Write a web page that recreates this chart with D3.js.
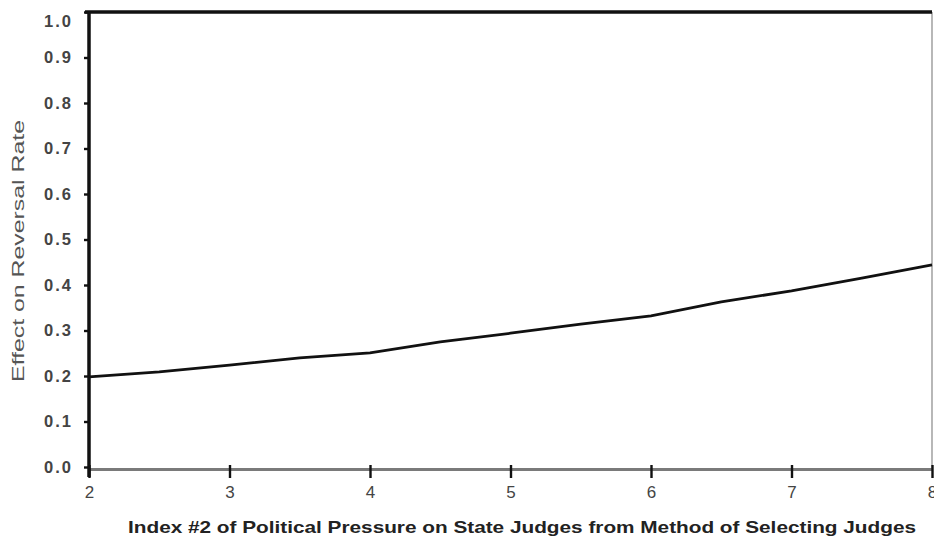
<!DOCTYPE html>
<html>
<head>
<meta charset="utf-8">
<script src="https://cdn.jsdelivr.net/npm/d3@7"></script>
<style>
  html, body { margin: 0; padding: 0; background: #fff; }
  svg { display: block; }
</style>
</head>
<body>
<svg id="chart" width="934" height="537"></svg>
<script>
// Index of political pressure (x) and estimated effect on reversal rate (y)
const indexValues = [2, 2.5, 3, 3.5, 4, 4.5, 5, 5.5, 6, 6.5, 7, 7.5, 8];
const effectValues = [0.198, 0.209, 0.224, 0.240, 0.251, 0.275, 0.294, 0.314, 0.332, 0.363, 0.387, 0.415, 0.444];
const xTickValues = [2, 3, 4, 5, 6, 7, 8];
const yTickValues = [0, 0.1, 0.2, 0.3, 0.4, 0.5, 0.6, 0.7, 0.8, 0.9, 1.0];
const xTitle = "Index #2 of Political Pressure on State Judges from Method of Selecting Judges";
const yTitle = "Effect on Reversal Rate";

const svg = d3.select("#chart");
const plotLeft = 89, plotRight = 932, plotTop = 12, plotBottom = 467;

const x = d3.scaleLinear().domain([2, 8]).range([plotLeft, plotRight]);
const y = d3.scaleLinear().domain([0, 1]).range([plotBottom, plotTop]);

// frame: thin right edge, heavy top edge
svg.append("line")
  .attr("x1", plotRight).attr("x2", plotRight).attr("y1", plotTop).attr("y2", plotBottom + 2)
  .attr("stroke", "#888").attr("stroke-width", 1.2);
svg.append("line")
  .attr("x1", plotLeft - 4).attr("x2", plotRight).attr("y1", plotTop).attr("y2", plotTop)
  .attr("stroke", "#111").attr("stroke-width", 3.5);

// x axis (grey baseline, dark ticks through it)
const xAxis = svg.append("g").attr("transform", `translate(0,${plotBottom + 2})`)
  .call(d3.axisBottom(x).tickValues(xTickValues).tickFormat(d3.format("d"))
    .tickSize(0).tickPadding(17));
xAxis.select(".domain").attr("stroke", "#7a7a7a").attr("stroke-width", 3);
xAxis.selectAll(".tick").append("line")
  .attr("y1", -4).attr("y2", 9).attr("stroke", "#111").attr("stroke-width", 2.4);
xAxis.selectAll(".tick text")
  .attr("font-family", "Liberation Sans, Arial, sans-serif")
  .attr("font-size", 17).attr("fill", "#444");

// y axis
const yAxis = svg.append("g").attr("transform", `translate(${plotLeft},0)`)
  .call(d3.axisLeft(y).tickValues(yTickValues).tickFormat(d3.format(".1f"))
    .tickSize(5).tickPadding(11));
yAxis.select(".domain").attr("stroke", "#111").attr("stroke-width", 3.5)
  .attr("d", `M0,${plotTop}V${plotBottom + 10}`);
yAxis.selectAll(".tick line").attr("stroke", "#111").attr("stroke-width", 2.4);
yAxis.selectAll(".tick text")
  .attr("font-family", "Liberation Sans, Arial, sans-serif")
  .attr("font-size", 16.5).attr("font-weight", "bold")
  .attr("letter-spacing", "2px").attr("fill", "#444")
  .attr("dy", d => d === 1 ? "0.9em" : "0.32em");

// effect curve
const line = d3.line().x((d, i) => x(indexValues[i])).y(d => y(d));
svg.append("path")
  .datum(effectValues)
  .attr("d", line)
  .attr("fill", "none")
  .attr("stroke", "#111")
  .attr("stroke-width", 2.8);

// axis titles
svg.append("text")
  .attr("x", 128).attr("y", 533)
  .attr("textLength", 788).attr("lengthAdjust", "spacingAndGlyphs")
  .attr("font-family", "Liberation Sans, Arial, sans-serif")
  .attr("font-size", 17).attr("font-weight", "bold").attr("fill", "#222")
  .text(xTitle);

svg.append("text")
  .attr("transform", "translate(24,382) rotate(-90)")
  .attr("textLength", 262).attr("lengthAdjust", "spacingAndGlyphs")
  .attr("font-family", "Liberation Sans, Arial, sans-serif")
  .attr("font-size", 17).attr("fill", "#555")
  .text(yTitle);
</script>
</body>
</html>
